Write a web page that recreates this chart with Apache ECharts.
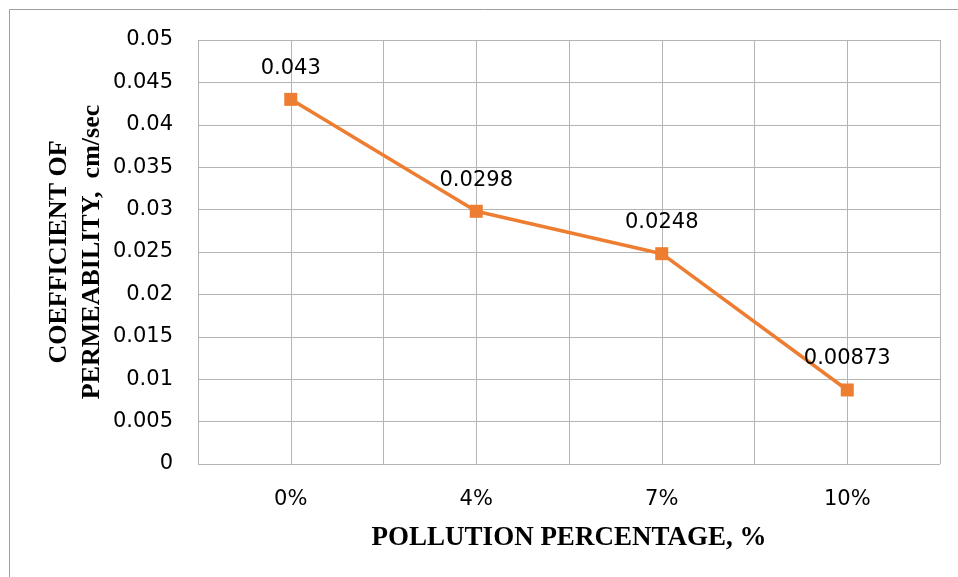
<!DOCTYPE html>
<html>
<head>
<meta charset="utf-8">
<script src="https://cdn.jsdelivr.net/npm/echarts@6/dist/echarts.min.js"></script>
<style>
html,body{margin:0;padding:0;background:#fff;}
#chart{width:958px;height:577px;}
</style>
</head>
<body>
<div id="chart"></div>
<script>
const categories = ['0%', '4%', '7%', '10%'];
const permeability = [0.043, 0.0298, 0.0248, 0.00873];
const pointLabels = ['0.043', '0.0298', '0.0248', '0.00873'];
const yTitle = 'COEFFICIENT OF\nPERMEABILITY,  cm/sec';
const xTitle = 'POLLUTION PERCENTAGE, %';

const chart = echarts.init(document.getElementById('chart'), null, {renderer: 'canvas'});
const gridColor = '#b4b4b4';
chart.setOption({
  animation: false,
  backgroundColor: '#ffffff',
  graphic: [{
    type: 'rect',
    shape: {x: 9.5, y: 9.5, width: 1000, height: 1000},
    style: {fill: 'none', stroke: '#a0a0a0', lineWidth: 1},
    silent: true
  }],
  grid: {left: 198, right: 18, top: 40, bottom: 113, containLabel: false},
  xAxis: [{
    type: 'category',
    data: categories,
    boundaryGap: true,
    axisLine: {show: false},
    axisTick: {show: false},
    splitLine: {show: false},
    axisLabel: {fontFamily: 'DejaVu Sans', fontSize: 21, color: '#000', margin: 25},
    name: xTitle,
    nameLocation: 'middle',
    nameGap: 61,
    nameMoveOverlap: false,
    nameTextStyle: {fontFamily: 'Liberation Serif', fontWeight: 'bold', fontSize: 27, color: '#000'}
  }, {
    type: 'value',
    min: 0,
    max: categories.length * 2,
    interval: 1,
    position: 'bottom',
    axisLine: {show: false},
    axisTick: {show: false},
    axisLabel: {show: false},
    splitLine: {show: true, lineStyle: {color: gridColor, width: 1}}
  }],
  yAxis: {
    type: 'value',
    min: 0,
    max: 0.05,
    interval: 0.005,
    axisLine: {show: false},
    axisTick: {show: false},
    splitLine: {show: true, lineStyle: {color: gridColor, width: 1}},
    axisLabel: {
      fontFamily: 'DejaVu Sans', fontSize: 21, color: '#000', margin: 25,
      formatter: v => String(parseFloat(v.toFixed(4)))
    },
    name: yTitle,
    nameLocation: 'middle',
    nameRotate: 90,
    nameGap: 89,
    nameMoveOverlap: false,
    nameTextStyle: {fontFamily: 'Liberation Serif', fontWeight: 'bold', fontSize: 26, color: '#000', lineHeight: 33, align: 'center'}
  },
  series: [{
    type: 'line',
    xAxisIndex: 0,
    data: permeability,
    symbol: 'rect',
    symbolSize: 13,
    lineStyle: {color: '#ED7D31', width: 3.5},
    itemStyle: {color: '#ED7D31'},
    label: {
      show: true,
      position: 'top',
      distance: 14,
      fontFamily: 'DejaVu Sans',
      fontSize: 21,
      color: '#000',
      formatter: p => pointLabels[p.dataIndex]
    }
  }]
});
</script>
</body>
</html>
